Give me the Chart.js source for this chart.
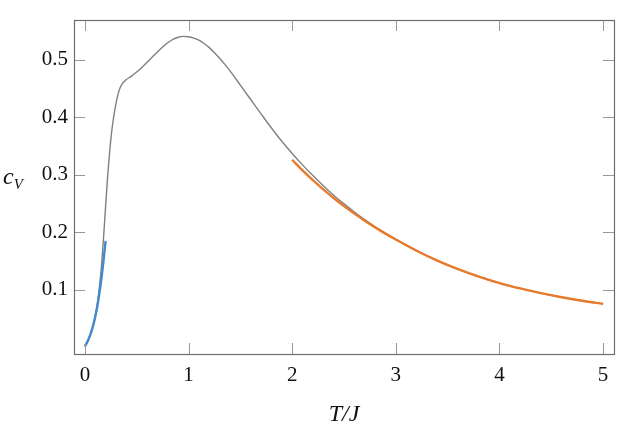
<!DOCTYPE html>
<html>
<head>
<meta charset="utf-8">
<script src="https://cdn.jsdelivr.net/npm/chart.js@4/dist/chart.umd.min.js"></script>
<style>
html,body{margin:0;padding:0;background:#fff;}
#wrap{width:623px;height:433px;position:relative;}
</style>
</head>
<body>
<div id="wrap"><canvas id="c" width="623" height="433"></canvas></div>
<script>
// Full model (gray)
const grayT = [0, 0.02, 0.04, 0.06, 0.08, 0.10, 0.12, 0.14, 0.16, 0.18, 0.20, 0.22, 0.24, 0.26, 0.28, 0.30, 0.32, 0.34, 0.36, 0.38, 0.40, 0.45, 0.50, 0.55, 0.60, 0.65, 0.70, 0.75, 0.80, 0.85, 0.90, 0.95, 1.00, 1.05, 1.10, 1.15, 1.20, 1.25, 1.30, 1.35, 1.40, 1.50, 1.60, 1.70, 1.80, 1.90, 2.0, 2.1, 2.2, 2.3, 2.4, 2.5, 2.6, 2.7, 2.8, 2.9, 3.0, 3.2, 3.4, 3.6, 3.8, 4.0, 4.2, 4.4, 4.6, 4.8, 5.0];
const grayC = [0.0, 0.007, 0.016, 0.026, 0.039, 0.055, 0.076, 0.104, 0.141, 0.190, 0.245, 0.298, 0.342, 0.377, 0.403, 0.424, 0.440, 0.451, 0.458, 0.462, 0.4655, 0.4715, 0.4785, 0.4865, 0.4955, 0.5045, 0.5135, 0.522, 0.5295, 0.5355, 0.5390, 0.5405, 0.5398, 0.5375, 0.5338, 0.5282, 0.5210, 0.5122, 0.5025, 0.4918, 0.4806, 0.4557, 0.4307, 0.4057, 0.3812, 0.3581, 0.337, 0.3171, 0.2984, 0.2809, 0.2644, 0.2492, 0.235, 0.2218, 0.2095, 0.1981, 0.1875, 0.168, 0.1508, 0.1359, 0.1230, 0.1117, 0.1023, 0.0941, 0.0870, 0.0808, 0.0753];
// Low-temperature approximation (blue)
const blueT = [0, 0.02, 0.04, 0.06, 0.08, 0.10, 0.12, 0.14, 0.16, 0.18, 0.20];
const blueC = [0.002, 0.008, 0.016, 0.026, 0.038, 0.053, 0.071, 0.094, 0.120, 0.151, 0.185];
// High-temperature approximation (orange)
const orangeT = [2.0, 2.1, 2.2, 2.3, 2.4, 2.5, 2.6, 2.7, 2.8, 2.9, 3.0, 3.2, 3.4, 3.6, 3.8, 4.0, 4.2, 4.4, 4.6, 4.8, 5.0];
const orangeC = [0.326, 0.3076, 0.2904, 0.2744, 0.2594, 0.2454, 0.2323, 0.2200, 0.2084, 0.1975, 0.1872, 0.1678, 0.1507, 0.1358, 0.1229, 0.1116, 0.1022, 0.0940, 0.0869, 0.0807, 0.0752];
// Tick values
const xTicks = [0, 1, 2, 3, 4, 5];
const yTicks = [0.1, 0.2, 0.3, 0.4, 0.5];
const xTitle = 'T/J';
const yTitleMain = 'c';
const yTitleSub = 'V';

const pts = (xs, ys) => xs.map((x, i) => ({x: x, y: ys[i]}));
const FONT = '"Liberation Serif", "DejaVu Serif", serif';

const framePlugin = {
  id: 'frame',
  afterDatasetsDraw(chart) {
    const {ctx, chartArea: a, scales: {x, y}} = chart;
    ctx.save();
    ctx.lineWidth = 1;
    ctx.strokeStyle = '#9a9a9a';
    const L = 11;
    ctx.beginPath();
    xTicks.forEach(v => {
      const px = Math.round(x.getPixelForValue(v)) + 0.5;
      ctx.moveTo(px, a.bottom); ctx.lineTo(px, a.bottom - L);
      ctx.moveTo(px, a.top); ctx.lineTo(px, a.top + L);
    });
    yTicks.forEach(v => {
      const py = Math.round(y.getPixelForValue(v)) + 0.5;
      ctx.moveTo(a.left, py); ctx.lineTo(a.left + L, py);
      ctx.moveTo(a.right, py); ctx.lineTo(a.right - L, py);
    });
    ctx.stroke();
    ctx.strokeStyle = '#6e6e6e';
    ctx.lineWidth = 1.2;
    ctx.strokeRect(a.left + 0.5, a.top + 0.5, a.right - a.left, a.bottom - a.top);
    // y-axis title c_V
    ctx.fillStyle = '#111';
    ctx.textBaseline = 'alphabetic';
    ctx.font = 'italic 24px ' + FONT;
    const cy = 184;
    ctx.fillText(yTitleMain, 3, cy);
    const w = ctx.measureText(yTitleMain).width;
    ctx.font = 'italic 15px ' + FONT;
    ctx.fillText(yTitleSub, 3 + w, cy + 5);
    ctx.restore();
  }
};

new Chart(document.getElementById('c'), {
  type: 'line',
  data: {
    datasets: [
      {data: pts(grayT, grayC), borderColor: '#808080', borderWidth: 1.4, pointRadius: 0, cubicInterpolationMode: 'monotone', order: 3},
      {data: pts(orangeT, orangeC), borderColor: '#e87a2c', borderWidth: 2.4, pointRadius: 0, cubicInterpolationMode: 'monotone', order: 2},
      {data: pts(blueT, blueC), borderColor: '#4389d2', borderWidth: 2.4, pointRadius: 0, cubicInterpolationMode: 'monotone', order: 1}
    ]
  },
  options: {
    responsive: false,
    animation: false,
    events: [],
    layout: {padding: {left: 0, right: 9, top: 20, bottom: 0}},
    plugins: {legend: {display: false}, tooltip: {enabled: false}},
    scales: {
      x: {
        type: 'linear', min: -0.105, max: 5.105,
        afterBuildTicks: s => { s.ticks = xTicks.map(v => ({value: v})); },
        afterFit: s => { s.height = 79; },
        grid: {display: false, drawTicks: false},
        border: {display: false},
        ticks: {padding: 9, color: '#111', font: {family: FONT, size: 21}, callback: v => String(v), maxRotation: 0},
        title: {display: true, text: xTitle, color: '#111', font: {family: FONT, size: 24, style: 'italic'}, padding: {top: 7}}
      },
      y: {
        type: 'linear', min: -0.0118, max: 0.569,
        afterBuildTicks: s => { s.ticks = yTicks.map(v => ({value: v})); },
        afterFit: s => { s.width = 74; },
        grid: {display: false, drawTicks: false},
        border: {display: false},
        ticks: {padding: 6, color: '#111', font: {family: FONT, size: 21}, callback: v => v.toFixed(1)}
      }
    }
  },
  plugins: [framePlugin]
});
</script>
</body>
</html>
